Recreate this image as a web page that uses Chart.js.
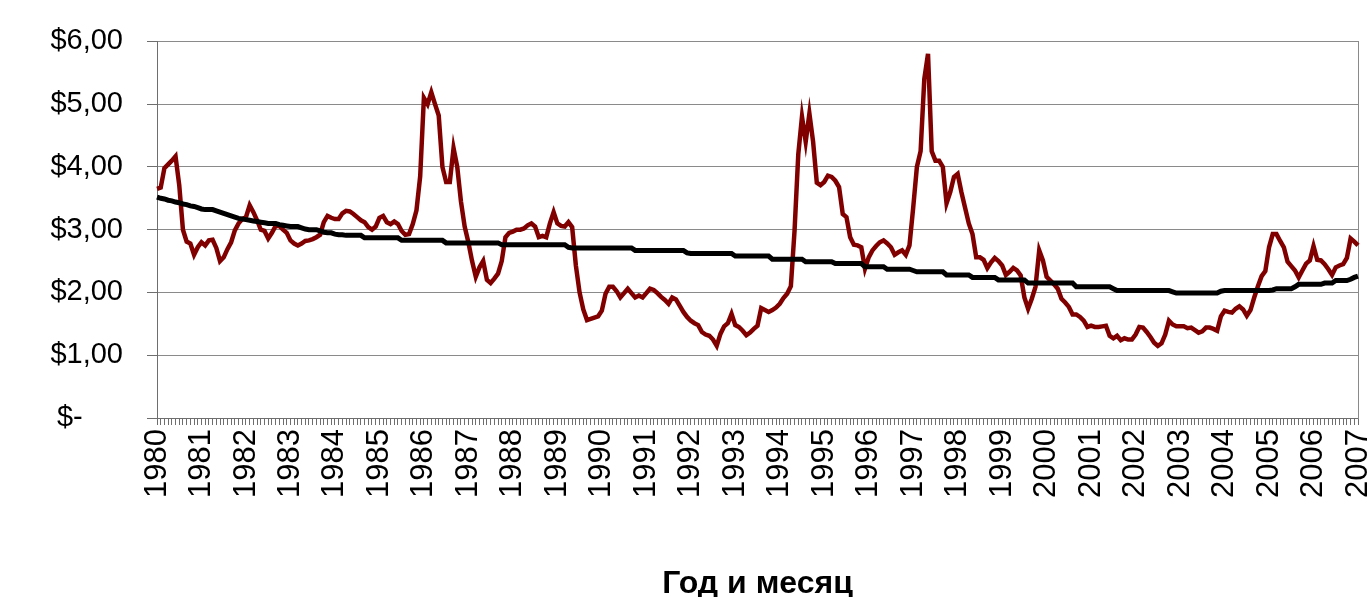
<!DOCTYPE html>
<html lang="ru">
<head>
<meta charset="UTF-8">
<title>Цена по месяцам</title>
<script src="https://cdn.jsdelivr.net/npm/chart.js"></script>
<style>
  body { margin: 0; background: #fff; }
  #wrap { width: 1370px; height: 597px; }
</style>
</head>
<body>
<div id="wrap"><canvas id="myChart"></canvas></div>
<script>
// years on the category axis (one label per January)
const years = [1980, 1981, 1982, 1983, 1984, 1985, 1986, 1987, 1988, 1989,
  1990, 1991, 1992, 1993, 1994, 1995, 1996, 1997, 1998, 1999,
  2000, 2001, 2002, 2003, 2004, 2005, 2006, 2007];

// monthly price, Jan 1980 .. Jan 2007
const price = [
  3.65, 3.67, 3.98, 4.04, 4.10, 4.17, 3.71, 3.00, 2.81, 2.78, 2.60, 2.72, // 1980
  2.80, 2.75, 2.83, 2.84, 2.71, 2.50, 2.56, 2.69, 2.80, 2.99, 3.10, 3.17, // 1981
  3.20, 3.39, 3.28, 3.15, 3.00, 2.98, 2.86, 2.95, 3.06, 3.06, 3.00, 2.95, // 1982
  2.83, 2.78, 2.75, 2.78, 2.82, 2.83, 2.85, 2.88, 2.92, 3.12, 3.22, 3.19, // 1983
  3.17, 3.17, 3.26, 3.30, 3.29, 3.25, 3.20, 3.15, 3.12, 3.04, 3.00, 3.05, // 1984
  3.19, 3.22, 3.12, 3.09, 3.13, 3.09, 2.98, 2.92, 2.93, 3.09, 3.31, 3.85, // 1985
  5.10, 5.00, 5.19, 5.00, 4.82, 4.00, 3.76, 3.76, 4.30, 4.00, 3.45, 3.05, // 1986
  2.80, 2.50, 2.25, 2.40, 2.50, 2.20, 2.15, 2.22, 2.30, 2.50, 2.88, 2.95, // 1987
  2.97, 3.00, 3.00, 3.02, 3.07, 3.10, 3.05, 2.88, 2.90, 2.88, 3.10, 3.28, // 1988
  3.10, 3.06, 3.05, 3.12, 3.04, 2.43, 2.00, 1.73, 1.56, 1.58, 1.60, 1.62, // 1989
  1.71, 1.98, 2.09, 2.09, 2.02, 1.92, 1.99, 2.06, 1.99, 1.92, 1.95, 1.92, // 1990
  1.99, 2.06, 2.04, 1.99, 1.93, 1.88, 1.82, 1.92, 1.89, 1.79, 1.69, 1.61, // 1991
  1.55, 1.51, 1.48, 1.37, 1.33, 1.31, 1.25, 1.15, 1.34, 1.46, 1.51, 1.66, // 1992
  1.48, 1.45, 1.39, 1.32, 1.36, 1.42, 1.47, 1.75, 1.72, 1.69, 1.72, 1.76, // 1993
  1.82, 1.91, 1.98, 2.10, 2.99, 4.20, 4.80, 4.40, 4.85, 4.40, 3.75, 3.71, // 1994
  3.76, 3.86, 3.84, 3.78, 3.68, 3.25, 3.20, 2.88, 2.76, 2.75, 2.72, 2.38, // 1995
  2.56, 2.67, 2.74, 2.80, 2.83, 2.78, 2.72, 2.60, 2.64, 2.67, 2.60, 2.75, // 1996
  3.35, 4.00, 4.25, 5.40, 5.80, 4.25, 4.10, 4.10, 4.00, 3.42, 3.60, 3.84, // 1997
  3.89, 3.60, 3.35, 3.10, 2.93, 2.56, 2.56, 2.52, 2.39, 2.48, 2.55, 2.50, // 1998
  2.43, 2.28, 2.33, 2.39, 2.35, 2.27, 1.92, 1.74, 1.90, 2.09, 2.67, 2.51, // 1999
  2.25, 2.19, 2.13, 2.06, 1.90, 1.84, 1.77, 1.65, 1.65, 1.61, 1.55, 1.45, // 2000
  1.47, 1.45, 1.45, 1.46, 1.47, 1.31, 1.27, 1.31, 1.24, 1.27, 1.25, 1.25, // 2001
  1.33, 1.45, 1.44, 1.37, 1.29, 1.20, 1.15, 1.19, 1.33, 1.55, 1.49, 1.46, // 2002
  1.46, 1.46, 1.43, 1.44, 1.40, 1.36, 1.38, 1.44, 1.44, 1.42, 1.39, 1.62, // 2003
  1.71, 1.69, 1.68, 1.74, 1.78, 1.73, 1.63, 1.72, 1.92, 2.10, 2.26, 2.34, // 2004
  2.72, 2.93, 2.93, 2.82, 2.72, 2.49, 2.42, 2.35, 2.24, 2.35, 2.46, 2.51, // 2005
  2.74, 2.52, 2.51, 2.45, 2.37, 2.28, 2.40, 2.43, 2.45, 2.55, 2.86, 2.81, // 2006
  2.75                                                                    // 2007
];

// the slow black line
const trend = [
  3.52, 3.50, 3.49, 3.47, 3.46, 3.44, 3.43, 3.41, 3.40, 3.38, 3.37, 3.35, // 1980
  3.33, 3.32, 3.32, 3.32, 3.30, 3.28, 3.26, 3.24, 3.22, 3.20, 3.18, 3.17, // 1981
  3.16, 3.15, 3.14, 3.13, 3.12, 3.11, 3.10, 3.10, 3.10, 3.08, 3.07, 3.06, // 1982
  3.05, 3.05, 3.05, 3.03, 3.01, 3.00, 3.00, 3.00, 2.98, 2.96, 2.95, 2.95, // 1983
  2.93, 2.92, 2.92, 2.91, 2.91, 2.91, 2.91, 2.91, 2.87, 2.87, 2.87, 2.87, // 1984
  2.87, 2.87, 2.87, 2.87, 2.87, 2.87, 2.83, 2.83, 2.83, 2.83, 2.83, 2.83, // 1985
  2.83, 2.83, 2.83, 2.83, 2.83, 2.83, 2.79, 2.79, 2.79, 2.79, 2.79, 2.79, // 1986
  2.79, 2.79, 2.79, 2.79, 2.79, 2.79, 2.79, 2.79, 2.79, 2.76, 2.76, 2.76, // 1987
  2.76, 2.76, 2.76, 2.76, 2.76, 2.76, 2.76, 2.76, 2.76, 2.76, 2.76, 2.76, // 1988
  2.76, 2.76, 2.76, 2.72, 2.71, 2.71, 2.71, 2.71, 2.71, 2.71, 2.71, 2.71, // 1989
  2.71, 2.71, 2.71, 2.71, 2.71, 2.71, 2.71, 2.71, 2.71, 2.67, 2.67, 2.67, // 1990
  2.67, 2.67, 2.67, 2.67, 2.67, 2.67, 2.67, 2.67, 2.67, 2.67, 2.67, 2.63, // 1991
  2.62, 2.62, 2.62, 2.62, 2.62, 2.62, 2.62, 2.62, 2.62, 2.62, 2.62, 2.62, // 1992
  2.58, 2.58, 2.58, 2.58, 2.58, 2.58, 2.58, 2.58, 2.58, 2.58, 2.53, 2.53, // 1993
  2.53, 2.53, 2.53, 2.53, 2.53, 2.53, 2.53, 2.49, 2.49, 2.49, 2.49, 2.49, // 1994
  2.49, 2.49, 2.49, 2.46, 2.46, 2.46, 2.46, 2.46, 2.46, 2.46, 2.46, 2.41, // 1995
  2.41, 2.41, 2.41, 2.41, 2.41, 2.37, 2.37, 2.37, 2.37, 2.37, 2.37, 2.37, // 1996
  2.35, 2.33, 2.33, 2.33, 2.33, 2.33, 2.33, 2.33, 2.33, 2.28, 2.28, 2.28, // 1997
  2.28, 2.28, 2.28, 2.28, 2.24, 2.24, 2.24, 2.24, 2.24, 2.24, 2.24, 2.20, // 1998
  2.20, 2.20, 2.20, 2.20, 2.20, 2.20, 2.20, 2.15, 2.15, 2.15, 2.15, 2.15, // 1999
  2.15, 2.15, 2.15, 2.15, 2.15, 2.15, 2.15, 2.15, 2.09, 2.09, 2.09, 2.09, // 2000
  2.09, 2.09, 2.09, 2.09, 2.09, 2.09, 2.06, 2.03, 2.03, 2.03, 2.03, 2.03, // 2001
  2.03, 2.03, 2.03, 2.03, 2.03, 2.03, 2.03, 2.03, 2.03, 2.03, 2.01, 1.99, // 2002
  1.99, 1.99, 1.99, 1.99, 1.99, 1.99, 1.99, 1.99, 1.99, 1.99, 1.99, 2.02, // 2003
  2.03, 2.03, 2.03, 2.03, 2.03, 2.03, 2.03, 2.03, 2.03, 2.03, 2.03, 2.03, // 2004
  2.03, 2.04, 2.06, 2.06, 2.06, 2.06, 2.06, 2.09, 2.13, 2.13, 2.13, 2.13, // 2005
  2.13, 2.13, 2.13, 2.15, 2.15, 2.15, 2.19, 2.19, 2.19, 2.19, 2.21, 2.24, // 2006
  2.26                                                                    // 2007
];

// category labels: year on January, blank for other months
let labels = [];
for (let i = 0; i < price.length; i++) {
  labels.push(i % 12 === 0 ? String(years[i / 12]) : '');
}

const fontFamily = '"Liberation Sans", Arial, sans-serif';
const axisGray = '#6e6e6e';
const gridGray = '#8a8a8a';

new Chart(document.getElementById('myChart'), {
  type: 'line',
  data: {
    labels: labels,
    datasets: [
      {
        label: 'trend',
        data: trend,
        borderColor: '#000000',
        borderWidth: 5,
        pointRadius: 0,
        fill: false
      },
      {
        label: 'price',
        data: price,
        borderColor: '#800000',
        borderWidth: 4.5,
        pointRadius: 0,
        fill: false
      }
    ]
  },
  options: {
    responsive: true,
    maintainAspectRatio: false,
    animation: false,
    layout: { padding: { left: 0, top: 41, right: 12, bottom: 0 } },
    plugins: {
      legend: { display: false },
      tooltip: { enabled: false }
    },
    scales: {
      x: {
        offset: false,
        grid: {
          drawOnChartArea: false,
          drawTicks: true,
          tickLength: 7,
          color: axisGray,
          lineWidth: 1
        },
        border: { color: axisGray, width: 1 },
        ticks: {
          autoSkip: false,
          maxRotation: 90,
          minRotation: 90,
          padding: 4,
          color: '#000',
          font: { family: fontFamily, size: 31, lineHeight: 1 }
        },
        title: {
          display: true,
          text: 'Год и месяц',
          color: '#000',
          padding: { top: 0, bottom: -3 },
          font: { family: fontFamily, size: 32, weight: 'bold', lineHeight: 1 }
        },
        afterFit: function (scale) {
          scale.height = 179;
          // the last year label may hang past the plot edge, as in the original
          scale.paddingRight = 0;
          scale.paddingLeft = 0;
        }
      },
      y: {
        min: 0,
        max: 6,
        grid: {
          color: gridGray,
          lineWidth: 1,
          tickLength: 10,
          tickColor: axisGray
        },
        border: { color: axisGray, width: 1 },
        ticks: {
          stepSize: 1,
          padding: 24,
          color: '#000',
          font: { family: fontFamily, size: 29 },
          callback: function (v) {
            if (v === 0) return '$-     ';
            return '$' + v.toFixed(2).replace('.', ',');
          }
        },
        afterFit: function (scale) { scale.width = 157; }
      },
      yRight: {
        position: 'right',
        min: 0,
        max: 6,
        grid: { drawOnChartArea: false, drawTicks: false },
        border: { color: gridGray, width: 1 },
        ticks: { display: false },
        afterFit: function (scale) { scale.width = 0; }
      }
    }
  }
});
</script>
</body>
</html>
